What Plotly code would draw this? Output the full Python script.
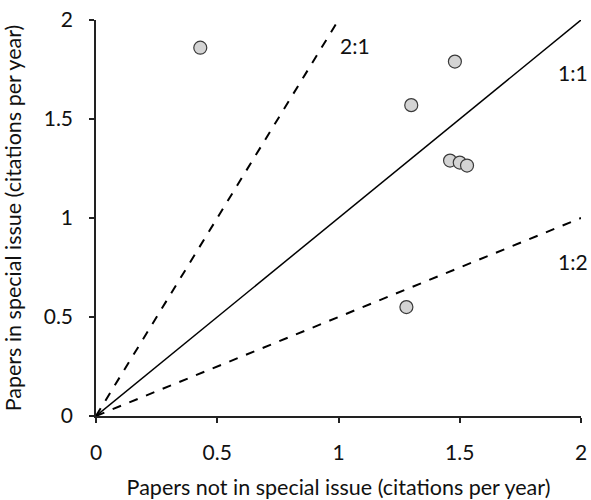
import plotly.graph_objects as go

# Data points (citations per year)
not_special = [0.43, 1.48, 1.30, 1.46, 1.50, 1.53, 1.28]
in_special = [1.86, 1.79, 1.57, 1.29, 1.28, 1.265, 0.55]

# Reference ratio lines
line_21_x = [0, 1]
line_21_y = [0, 2]
line_11_x = [0, 2]
line_11_y = [0, 2]
line_12_x = [0, 2]
line_12_y = [0, 1]

ratio_labels = ["2:1", "1:1", "1:2"]
label_x = [1.07, 1.965, 1.965]
label_y = [1.87, 1.735, 0.78]

tick_vals = [0, 0.5, 1, 1.5, 2]
tick_text = ["0", "0.5", "1", "1.5", "2"]

FONT = "Lato, Open Sans, sans-serif"

fig = go.Figure()
fig.add_trace(go.Scatter(x=line_21_x, y=line_21_y, mode="lines",
                         line=dict(color="black", width=2, dash="dash"), showlegend=False))
fig.add_trace(go.Scatter(x=line_11_x, y=line_11_y, mode="lines",
                         line=dict(color="black", width=1.5), showlegend=False))
fig.add_trace(go.Scatter(x=line_12_x, y=line_12_y, mode="lines",
                         line=dict(color="black", width=2, dash="dash"), showlegend=False))
fig.add_trace(go.Scatter(x=not_special, y=in_special, mode="markers",
                         marker=dict(size=13, color="#d4d4d4",
                                     line=dict(color="#3a3a3a", width=1.2)),
                         showlegend=False, cliponaxis=False))

for t, lx, ly in zip(ratio_labels, label_x, label_y):
    fig.add_annotation(x=lx, y=ly, xref="x", yref="y", text=t, showarrow=False,
                       font=dict(size=21, color="#111", family=FONT))

axis_common = dict(range=[0, 2], tickvals=tick_vals, ticktext=tick_text,
                   showgrid=False, zeroline=False, showline=True,
                   linecolor="#222", linewidth=1.5, ticks="outside",
                   ticklen=5, tickwidth=1.5, tickcolor="#222",
                   ticklabelstandoff=12,
                   tickfont=dict(size=21, color="#111", family=FONT))

fig.update_layout(
    width=591, height=500,
    paper_bgcolor="white", plot_bgcolor="white",
    margin=dict(l=96, r=10, t=20, b=84, autoexpand=False),
    xaxis=dict(**axis_common,
               title=dict(text="Papers not in special issue (citations per year)",
                          font=dict(size=21.5, color="#111", family=FONT), standoff=17)),
    yaxis=dict(**axis_common,
               title=dict(text="Papers in special issue (citations per year)",
                          font=dict(size=21.5, color="#111", family=FONT), standoff=16)),
)

fig.write_html("out.html", config={"displayModeBar": False},
               post_script="document.body.style.margin='0';")
